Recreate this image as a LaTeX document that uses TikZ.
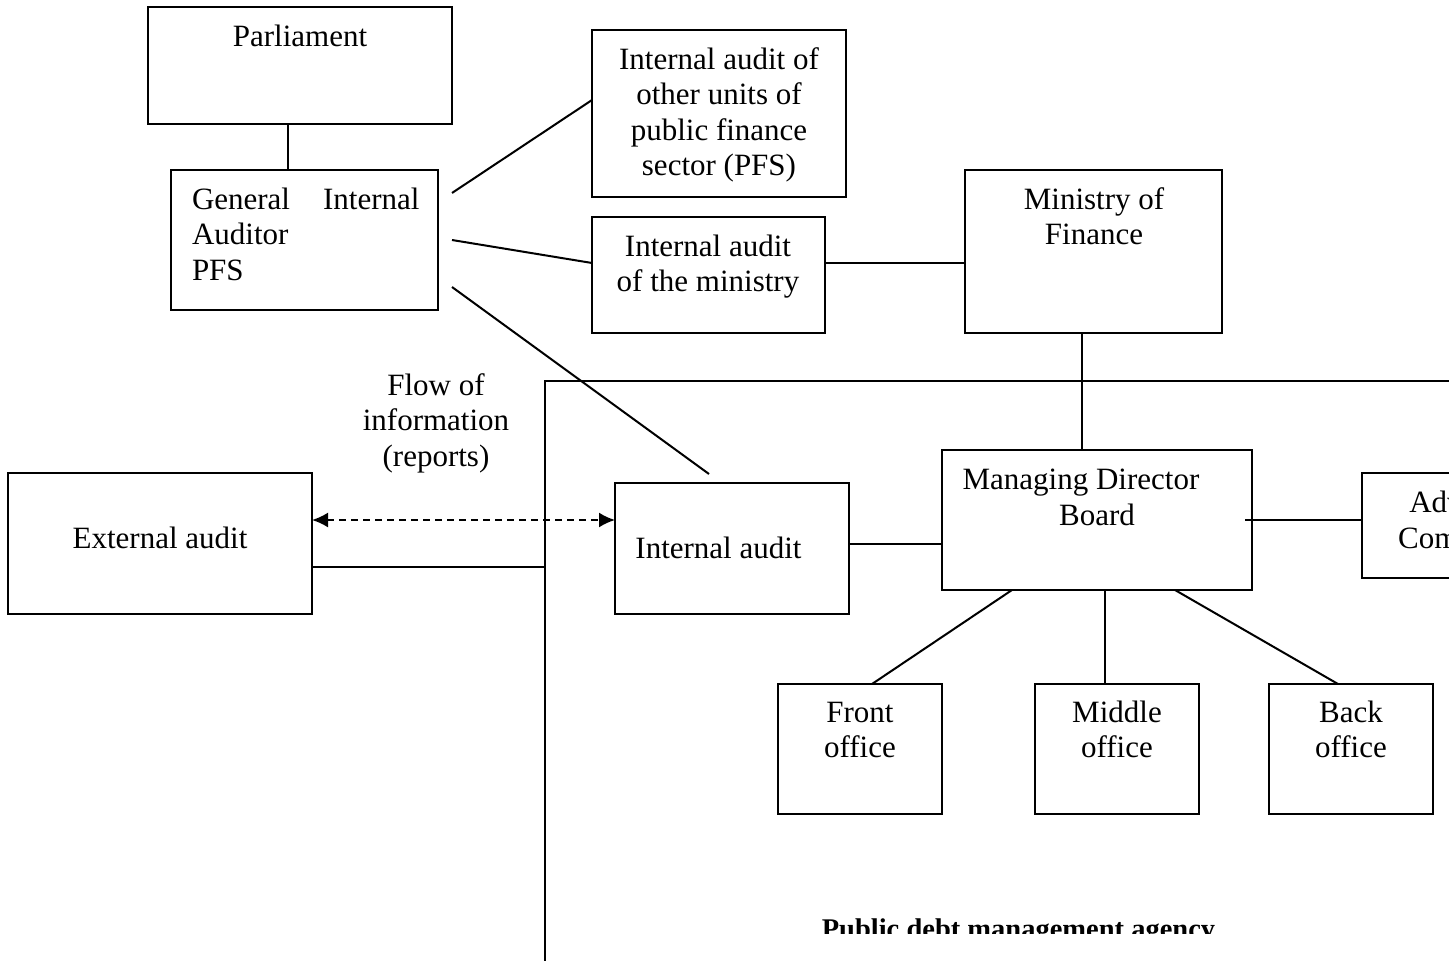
\documentclass[tikz,border=0pt]{standalone}
\usepackage{fontspec}
\setmainfont{Liberation Serif}
\usetikzlibrary{arrows.meta}
\newcommand\fsz{\fontsize{31}{35.5}\selectfont}
\begin{document}
\begin{tikzpicture}[x=1pt,y=-1pt,line width=2pt,
  box/.style={draw,line width=2pt,inner sep=0pt,outer sep=0pt,anchor=north west},
  txt/.style={font=\fsz,align=center,inner sep=0pt,anchor=north},
  one/.style={font=\fsz,inner sep=0pt,anchor=base},
  conn/.style={line width=2pt},
  flow/.style={line width=2pt,dash pattern=on 7pt off 5pt,{Latex[length=16pt,width=15pt]}-{Latex[length=16pt,width=15pt]}}]
\clip (0,0) rectangle (1449,961);
\useasboundingbox (0,0) rectangle (1449,961);
% boxes
\node[box,minimum width=304pt,minimum height=117pt] (parl) at (148,7) {};
\node[box,minimum width=267pt,minimum height=140pt] (ga) at (171,170) {};
\node[box,minimum width=254pt,minimum height=167pt] (ou) at (592,30) {};
\node[box,minimum width=233pt,minimum height=116pt] (im) at (592,217) {};
\node[box,minimum width=257pt,minimum height=163pt] (mof) at (965,170) {};
\node[box,minimum width=304pt,minimum height=141pt] (ext) at (8,473) {};
\node[box,minimum width=234pt,minimum height=131pt] (ia) at (615,483) {};
\node[box,minimum width=310pt,minimum height=140pt] (mdb) at (942,450) {};
\node[box,minimum width=210pt,minimum height=105pt] (adv) at (1362,473) {};
\node[box,minimum width=164pt,minimum height=130pt] (fo) at (778,684) {};
\node[box,minimum width=164pt,minimum height=130pt] (mo) at (1035,684) {};
\node[box,minimum width=164pt,minimum height=130pt] (bo) at (1269,684) {};
% agency frame
\draw[conn] (545,990) -- (545,381) -- (1480,381);
% texts
\node[one] (tparl) at (300,46) {Parliament};
\node[font=\fsz,align=left,inner sep=0pt,anchor=north west] (tga) at (191,183.5) {\strut General\hspace{33pt}Internal\\Auditor\\PFS};
\node[txt] (tou) at (719,43.5) {\strut Internal audit of\\other units of\\public finance\\sector (PFS)};
\node[txt] (tim) at (708,230.5) {\strut Internal audit\\of the ministry};
\node[txt] (tmof) at (1094,183.5) {\strut Ministry of\\Finance};
\node[txt] (tflow) at (436,369.5) {\strut Flow of\\information\\(reports)};
\node[one] (text) at (160,548) {External audit};
\node[one] (tia) at (718.5,558) {Internal audit};
\node[one] (tmdb1) at (1081,489) {Managing Director};
\node[one] (tmdb2) at (1097,525) {Board};
\node[txt] (tadv) at (1467,487) {\strut Advisory\\Committee};
\node[txt] (tfo) at (860,696.5) {\strut Front\\office};
\node[txt] (tmo) at (1117,696.5) {\strut Middle\\office};
\node[txt] (tbo) at (1351,696.5) {\strut Back\\office};
\begin{scope}
\clip (0,0) rectangle (1449,933);
\node[font=\fontsize{28.5}{34}\selectfont\bfseries,inner sep=0pt,anchor=base] (tagency) at (1018.5,938) {Public debt management agency};
\end{scope}
% connectors
\draw[conn] (288,0 |- parl.south) -- (288,0 |- ga.north);
\draw[conn] ([xshift=14pt]ga.east |- 0,193) -- (ou.west |- 0,100);
\draw[conn] ([xshift=14pt]ga.east |- 0,240) -- (im.west |- 0,263);
\coordinate (iatop) at (709,474);
\draw[conn] ([xshift=14pt]ga.east |- 0,287) -- (iatop);
\draw[conn] (im.east |- 0,263) -- (mof.west |- 0,263);
\draw[conn] (1082,0 |- mof.south) -- (1082,0 |- mdb.north);
\draw[flow] (ext.east |- 0,520) -- (ia.west |- 0,520);
\coordinate (frame) at (545,567);
\draw[conn] (ext.east |- 0,567) -- (frame);
\draw[conn] (ia.east |- 0,544) -- (mdb.west |- 0,544);
\draw[conn] ([xshift=-7pt]mdb.east |- 0,520) -- (adv.west |- 0,520);
\draw[conn] (1012,0 |- mdb.south) -- (872,0 |- fo.north);
\draw[conn] (1105,0 |- mdb.south) -- (1105,0 |- mo.north);
\draw[conn] (1175,0 |- mdb.south) -- (1338,0 |- bo.north);
\end{tikzpicture}
\end{document}
